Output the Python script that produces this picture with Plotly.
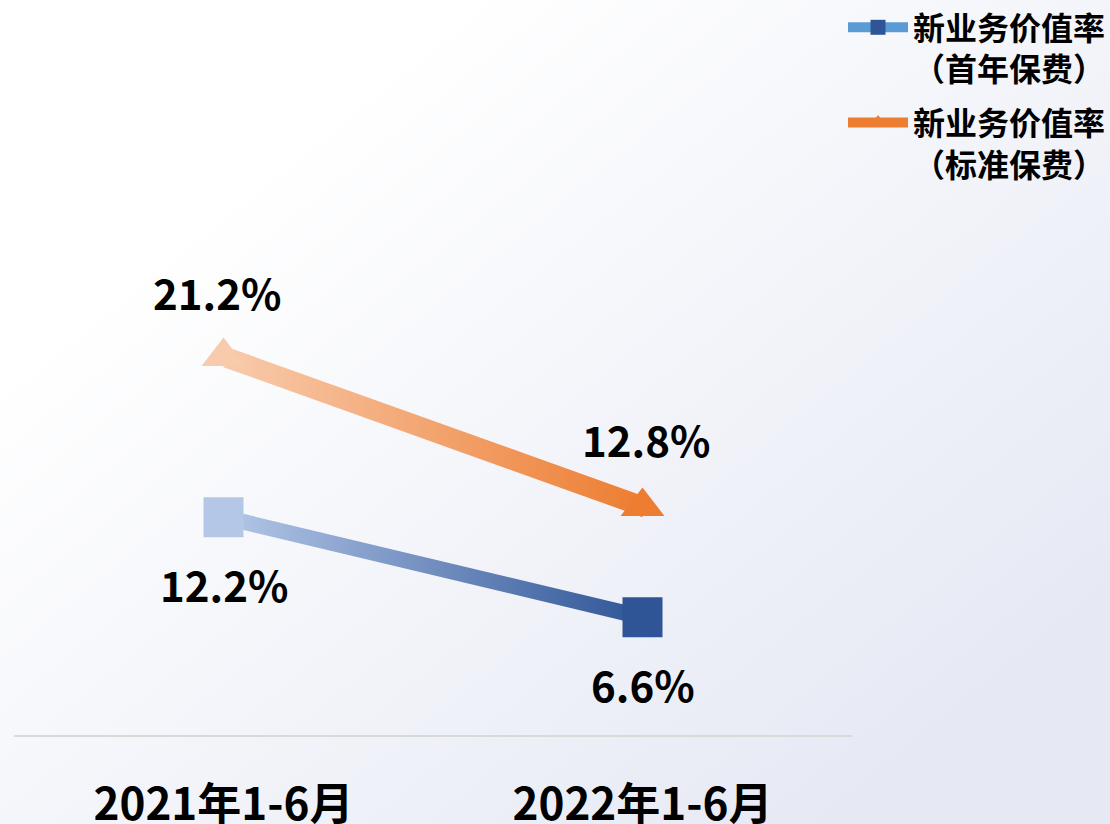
import base64
import plotly.graph_objects as go

# ---- data ----
categories = ["2021年1-6月", "2022年1-6月"]
fyp_values = [12.2, 6.6]      # 新业务价值率（首年保费）
std_values = [21.2, 12.8]     # 新业务价值率（标准保费）
fyp_name = "新业务价值率<br>（首年保费）"
std_name = "新业务价值率<br>（标准保费）"
fyp_labels = ["12.2%", "6.6%"]
std_labels = ["21.2%", "12.8%"]

# ---- style ----
FONT = "Noto Sans CJK SC, Noto Sans, sans-serif"
BLUE_LIGHT, BLUE_DARK, BLUE_LEG = "#B4C7E7", "#2F5597", "#5B9BD5"
ORG_LIGHT, ORG_DARK = "#F8CBAD", "#ED7D31"

W, H = 1110, 824
ML, MR, MT, MB = 14, 258, 10, 89
plot_w, plot_h = W - ML - MR, H - MT - MB
Y_MAX = 40.6


def band(vals, half):
    xs = [categories[0], categories[1], categories[1], categories[0], categories[0]]
    ys = [vals[0] + half, vals[1] + half, vals[1] - half, vals[0] - half, vals[0] + half]
    return xs, ys


fig = go.Figure()

# gradient "lines" drawn as thin filled bands
bx, by = band(std_values, 0.60)
fig.add_trace(go.Scatter(
    x=bx, y=by, mode="lines", fill="toself", line=dict(width=0),
    fillgradient=dict(type="horizontal", colorscale=[[0, ORG_LIGHT], [1, ORG_DARK]]),
    showlegend=False, hoverinfo="skip"))
bx, by = band(fyp_values, 0.45)
fig.add_trace(go.Scatter(
    x=bx, y=by, mode="lines", fill="toself", line=dict(width=0),
    fillgradient=dict(type="horizontal", colorscale=[[0, BLUE_LIGHT], [1, BLUE_DARK]]),
    showlegend=False, hoverinfo="skip"))

# markers
fig.add_trace(go.Scatter(
    x=categories, y=std_values, mode="markers",
    marker=dict(symbol="triangle-up", size=38, color=[ORG_LIGHT, ORG_DARK], line=dict(width=0)),
    showlegend=False))
fig.add_trace(go.Scatter(
    x=categories, y=fyp_values, mode="markers",
    marker=dict(symbol="square", size=40, color=[BLUE_LIGHT, BLUE_DARK], line=dict(width=0)),
    showlegend=False))

# legend entries
fig.add_trace(go.Scatter(
    x=[None], y=[None], mode="lines+markers", name=fyp_name, legendgroup="fyp",
    line=dict(color=BLUE_LEG, width=10),
    marker=dict(symbol="square", size=15, color=BLUE_DARK)))
fig.add_trace(go.Scatter(
    x=[None], y=[None], mode="lines+markers", name=std_name, legendgroup="std",
    line=dict(color=ORG_DARK, width=10),
    marker=dict(symbol="triangle-up", size=15, color=ORG_DARK)))

# value labels
ann = []
lab_font = dict(family=FONT, size=42, color="#000000", weight=700)
for i, (v, t) in enumerate(zip(std_values, std_labels)):
    ann.append(dict(x=categories[i], y=v, text=t, showarrow=False, font=lab_font,
                    yshift=65 if i == 0 else 68, xshift=-7 if i == 0 else 3))
for i, (v, t) in enumerate(zip(fyp_values, fyp_labels)):
    ann.append(dict(x=categories[i], y=v, text=t, showarrow=False, font=lab_font,
                    yshift=-66))

# background gradient as svg image (slightly oversized)
svg = (
    f'<svg xmlns="http://www.w3.org/2000/svg" width="{W}" height="{H}" '
    f'viewBox="0 0 {W} {H}" preserveAspectRatio="none">'
    '<defs><linearGradient id="g" x1="0.35" y1="0.1" x2="1" y2="0.7">'
    '<stop offset="0" stop-color="#FFFFFF"/>'
    '<stop offset="1" stop-color="#E6E9F4"/>'
    '</linearGradient></defs>'
    f'<rect width="{W}" height="{H}" fill="url(#g)"/></svg>'
)
src = "data:image/svg+xml;base64," + base64.b64encode(svg.encode()).decode()
PAD = 20

fig.update_layout(
    width=W, height=H,
    margin=dict(l=ML, r=MR, t=MT, b=MB, autoexpand=False),
    paper_bgcolor="#FFFFFF",
    plot_bgcolor="rgba(0,0,0,0)",
    font=dict(family=FONT, color="#000000"),
    annotations=ann,
    images=[dict(source=src, xref="paper", yref="paper",
                 x=-(ML + PAD) / plot_w, y=1 + (MT + PAD) / plot_h,
                 sizex=(W + 2 * PAD) / plot_w, sizey=(H + 2 * PAD) / plot_h,
                 xanchor="left", yanchor="top", sizing="stretch", layer="below")],
    legend=dict(
        xref="container", yref="container",
        x=843 / W, y=1 - (-3) / H, xanchor="left", yanchor="top",
        bgcolor="rgba(0,0,0,0)", valign="top",
        font=dict(family=FONT, size=32, color="#000000", weight=700),
        itemwidth=60, tracegroupgap=9, traceorder="grouped",
    ),
    xaxis=dict(
        type="category", range=[-0.5, 1.5], showgrid=False, zeroline=False,
        showline=True, linecolor="#D9D9D9", linewidth=2,
        ticks="", ticklabelstandoff=30,
        tickfont=dict(family=FONT, size=44, color="#000000", weight=700),
    ),
    yaxis=dict(range=[0, Y_MAX], visible=False, showgrid=False, zeroline=False),
    showlegend=True,
)

fig.write_html("out.html", config={"displayModeBar": False},
               post_script="document.body.style.margin='0';")
